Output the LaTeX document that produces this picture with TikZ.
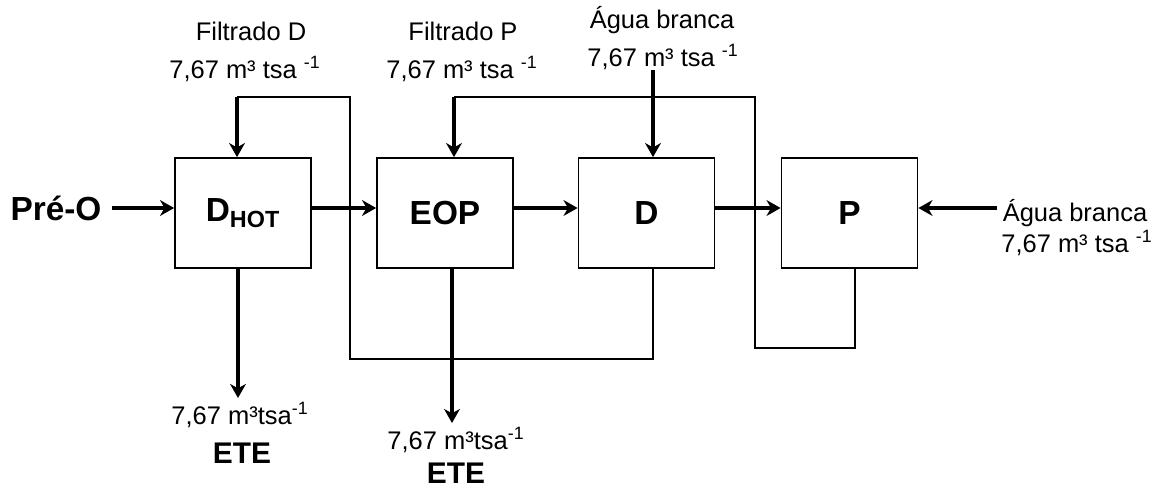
\documentclass[tikz,border=0pt]{standalone}
\usepackage{fontspec}
\setmainfont{Liberation Sans}
\usetikzlibrary{arrows.meta}
\tikzset{
  stage/.style={draw=black, line width=1pt, minimum width=2.72cm, minimum height=2.2cm, inner sep=0pt, font=\fontsize{19}{22}\selectfont\bfseries},
  flow/.style={line width=2pt, -{Stealth[length=8pt,width=9pt,inset=2.5pt]}},
  recycle/.style={line width=0.85pt, line join=miter},
  flowtext/.style={font=\fontsize{14.5}{17}\selectfont, inner sep=0pt},
  boldtext/.style={font=\fontsize{17}{20}\selectfont\bfseries, inner sep=0pt},
}

\begin{document}
\begin{tikzpicture}
\useasboundingbox (0,0) rectangle (23.32,9.8);
% stages
\node[stage] (dhot) at (4.86,5.54) {D\textsubscript{HOT}};
\node[stage] (eop) at (8.90,5.54) {EOP};
\node[stage] (d) at (12.93,5.54) {D};
\node[stage] (p) at (16.99,5.54) {P};
\node[font=\fontsize{19}{22}\selectfont\bfseries, inner sep=0pt] (pre) at (1.12,5.64) {Pré-O};
% main line
\draw[flow] ([xshift=0.2cm]pre.east) -- ([yshift=0.1cm]dhot.west);
\draw[flow] ([yshift=0.1cm]dhot.east) -- ([yshift=0.1cm]eop.west);
\draw[flow] ([yshift=0.1cm]eop.east) -- ([yshift=0.1cm]d.west);
\draw[flow] ([yshift=0.1cm]d.east) -- ([yshift=0.1cm]p.west);
% filtrates
\coordinate (dloop) at (13.06,2.62);
\coordinate (fdin) at (4.74,7.86);
\draw[recycle] (dloop |- d.south) -- (dloop) -- (7.0,2.62) -- (7.0,7.86) -- (fdin);
\draw[flow] (fdin) -- (fdin |- dhot.north);
\coordinate (ploop) at (17.1,2.84);
\coordinate (fpin) at (9.08,7.86);
\draw[recycle] (ploop |- p.south) -- (ploop) -- (15.1,2.84) -- (15.1,7.86) -- (fpin);
\draw[flow] (fpin) -- (fpin |- eop.north);
% white water
\coordinate (abin) at (13.06,8.4);
\draw[flow] (abin) -- (abin |- d.north);
\coordinate (abright) at (19.94,5.64);
\draw[flow] (abright) -- ([yshift=0.1cm]p.east);
% effluent
\coordinate (ete1) at (4.76,1.84);
\draw[flow] (ete1 |- dhot.south) -- (ete1);
\coordinate (ete2) at (9.04,1.34);
\draw[flow] (ete2 |- eop.south) -- (ete2);
% labels
\node[flowtext] (fdname) at (5.02,9.18) {Filtrado D};
\node[flowtext] (fdrate) at (4.9,8.42) {7,67 m³ tsa \textsuperscript{-1}};
\node[flowtext] (fpname) at (9.26,9.18) {Filtrado P};
\node[flowtext] (fprate) at (9.24,8.42) {7,67 m³ tsa \textsuperscript{-1}};
\node[flowtext] (abname) at (13.24,9.4) {Água branca};
\node[flowtext] (abrate) at (13.26,8.66) {7,67 m³ tsa \textsuperscript{-1}};
\node[flowtext] (abrname) at (21.5,5.54) {Água branca};
\node[flowtext] (abrrate) at (21.54,4.94) {7,67 m³ tsa \textsuperscript{-1}};
\node[flowtext] (ete1rate) at (4.8,1.5) {7,67 m³tsa\textsuperscript{-1}};
\node[boldtext] (ete1name) at (4.84,0.74) {ETE};
\node[flowtext] (ete2rate) at (9.12,1.0) {7,67 m³tsa\textsuperscript{-1}};
\node[boldtext] (ete2name) at (9.12,0.34) {ETE};
\end{tikzpicture}
\end{document}
